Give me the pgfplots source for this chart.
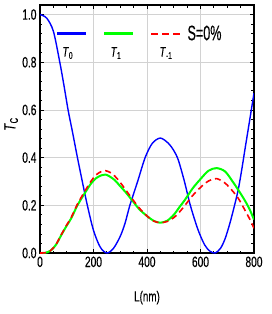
\documentclass[border=0pt]{standalone}
\usepackage{fontspec}
\setmainfont{Liberation Sans}[FakeStretch=0.68, FakeBold=0.4]
\newfontfamily\narrowfont{Liberation Sans}[FakeStretch=0.6, FakeBold=0.4]
\usepackage{pgfplots}
\pgfplotsset{compat=1.18}
\begin{document}
\begin{tikzpicture}
\begin{axis}[
  scale only axis, width=214pt, height=248pt,
  xmin=0, xmax=800, ymin=0, ymax=1.04,
  xtick={0,200,400,600,800},
  ytick={0,0.2,0.4,0.6,0.8,1.0},
  minor x tick num=3, minor y tick num=4,
  tick align=inside, tick pos=both,
  major tick length=4pt, minor tick length=2.5pt,
  every tick/.style={black, line width=0.8pt},
  grid=major, major grid style={gray!35, line width=0.6pt},
  axis line style={line width=2.2pt},
  /pgf/number format/assume math mode=true,
  yticklabel style={/pgf/number format/.cd, fixed, fixed zerofill, precision=1},
  tick label style={font=\fontsize{15}{17}\selectfont},
  xlabel={L(nm)},
  xlabel style={at={(axis description cs:0.5,-0.18)}, anchor=center, font=\fontsize{14.5}{16}\selectfont},
  ylabel={\textit{T}\textsubscript{C}},
  ylabel style={at={(axis description cs:-0.135,0.52)}, anchor=center, font=\fontsize{16}{18}\selectfont},
  legend columns=-1,
  legend style={draw=none, fill=none, at={(axis description cs:0.058,0.93)}, anchor=north west,
    column sep=0pt, font=\narrowfont\fontsize{21}{23}\selectfont,
    nodes={inner sep=1pt}},
  clip=true,
]
\addplot[blue, line width=1.4pt, smooth,
  legend image code/.code={\draw[blue, line width=2.4pt] (0pt,0pt) -- (29pt,0pt);
    \node[text=black, font=\fontsize{14}{15}\selectfont] at (11pt,-19pt) {\textit{T}\textsubscript{0}};
    \path[draw=none] (0pt,0pt) -- (44pt,0pt);}]
coordinates {
(0,1.0) (25,0.985) (50,0.93) (74,0.80) (90,0.70) (105,0.60) (121,0.51) (140,0.40)
(160,0.29) (177,0.20) (200,0.095) (225,0.025) (250,0.0) (275,0.02) (300,0.07)
(318,0.125) (336,0.20) (365,0.30) (393,0.40) (420,0.46) (450,0.482) (480,0.46)
(500,0.43) (517,0.39) (540,0.30) (562,0.20) (590,0.10) (615,0.035) (635,0.008)
(655,0.0) (675,0.02) (692,0.06) (710,0.125) (725,0.19) (741,0.265) (755,0.355)
(766,0.433) (780,0.53) (790,0.60) (800,0.67)
};
\addlegendentry{}
\addplot[green, line width=2pt, smooth,
  legend image code/.code={\draw[green, line width=2.4pt] (0pt,0pt) -- (29pt,0pt);
    \node[text=black, font=\fontsize{14}{15}\selectfont] at (12pt,-19pt) {\textit{T}\textsubscript{1}};
    \path[draw=none] (0pt,0pt) -- (44pt,0pt);}]
coordinates {
(0,0) (20,0.001) (40,0.01) (60,0.035) (80,0.076) (100,0.115) (117,0.146) (140,0.20)
(167,0.25) (190,0.29) (210,0.314) (230,0.326) (245,0.329) (262,0.32) (280,0.305)
(300,0.28) (320,0.255) (343,0.223) (370,0.185) (400,0.155) (425,0.135) (449,0.127)
(475,0.135) (500,0.16) (523,0.195) (542,0.223) (570,0.27) (600,0.31) (630,0.345)
(660,0.356) (692,0.342) (720,0.30) (741,0.265) (766,0.22) (785,0.18) (800,0.14)
};
\addlegendentry{}
\addplot[red, line width=1.6pt, smooth, dash pattern=on 6pt off 4pt,
  legend image code/.code={\draw[red, line width=2pt, dash pattern=on 7pt off 4pt] (0pt,0pt) -- (31pt,0pt);
    \node[text=black, font=\fontsize{14}{15}\selectfont] at (15pt,-19pt) {\textit{T}\textsubscript{-1}};}]
coordinates {
(0,0) (20,0.001) (40,0.01) (60,0.036) (80,0.078) (100,0.118) (117,0.15) (140,0.205)
(167,0.258) (190,0.30) (210,0.328) (230,0.342) (245,0.345) (262,0.338) (280,0.322)
(300,0.296) (320,0.265) (343,0.23) (370,0.19) (400,0.155) (425,0.134) (449,0.127)
(475,0.132) (500,0.148) (523,0.174) (542,0.20) (570,0.24) (600,0.275) (630,0.302)
(660,0.312) (692,0.293) (720,0.26) (741,0.23) (766,0.18) (785,0.14) (800,0.104)
};
\addlegendentry{\,S=0\%}
\end{axis}
\pgfresetboundingbox
\path ([shift={(-40pt,-61pt)}]current axis.south west) rectangle ([shift={(18pt,5pt)}]current axis.north east);
\end{tikzpicture}
\end{document}
